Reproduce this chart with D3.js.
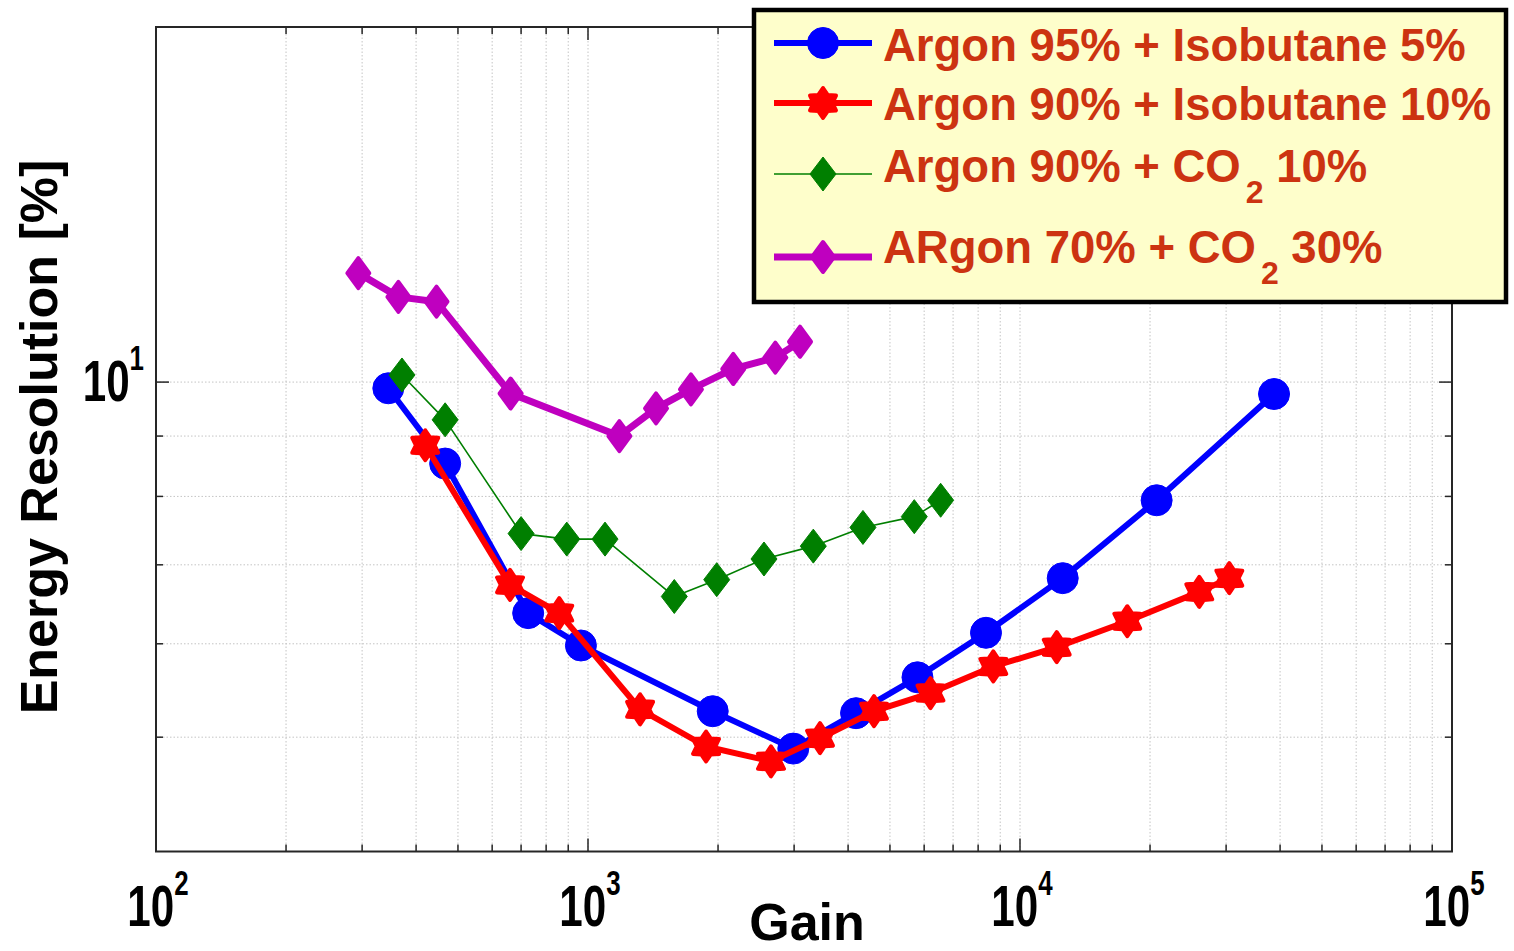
<!DOCTYPE html>
<html>
<head>
<meta charset="utf-8">
<script src="https://cdn.jsdelivr.net/npm/d3@7"></script>
<style>
  html, body { margin: 0; padding: 0; background: #ffffff; }
  svg { display: block; }
</style>
</head>
<body>
<svg id="chart" width="1514" height="951"></svg>
<script>
// Energy resolution vs. gas gain for four argon-based mixtures
const gainArIso5 = [345, 467, 727, 963, 1944, 2987, 4173, 5790, 8342, 12556, 20715, 38730];
const resArIso5  = [9.88, 8.53, 6.37, 5.98, 5.26, 4.89, 5.24, 5.62, 6.13, 6.82, 7.94, 9.77];

const gainArIso10 = [420, 660, 858, 1320, 1876, 2652, 3444, 4592, 6206, 8673, 12162, 17715, 26002, 30517];
const resArIso10  = [8.84, 6.73, 6.37, 5.28, 4.91, 4.77, 4.99, 5.26, 5.45, 5.74, 5.96, 6.27, 6.64, 6.82];

const gainArCO2_10 = [371, 467, 700, 893, 1095, 1584, 1986, 2555, 3323, 4330, 5692, 6551];
const resArCO2_10  = [10.14, 9.29, 7.44, 7.36, 7.36, 6.58, 6.80, 7.08, 7.26, 7.53, 7.69, 7.94];

const gainArCO2_30 = [294, 364, 446, 662, 1182, 1437, 1731, 2169, 2714, 3096];
const resArCO2_30  = [12.37, 11.81, 11.70, 9.78, 9.00, 9.50, 9.86, 10.26, 10.49, 10.82];

const xMajorTicks = [100, 1000, 10000, 100000];
const xTickExponents = ["2", "3", "4", "5"];
const yMajorTicks = [10];
const yTickExponents = ["1"];

const legendLabels = [
  ["Argon 95% + Isobutane 5%"],
  ["Argon 90% + Isobutane 10%"],
  ["Argon 90% + CO", "2", " 10%"],
  ["ARgon 70% + CO", "2", " 30%"]
];

const svg = d3.select("#chart");
const L = 156, R = 1452, T = 27, B = 851.5;

const x = d3.scaleLog().domain([100, 100000]).range([L, R]);
const y = d3.scaleLog().domain([4, 20]).range([B, T]);

// minor positions 2..9 per decade
const xMinor = [];
for (let e = 2; e < 5; e++) for (let m = 2; m <= 9; m++) xMinor.push(m * Math.pow(10, e));

const grid = svg.append("g").attr("stroke", "#c4c4c4").attr("stroke-width", 1)
  .attr("stroke-dasharray", "1.5,2");
grid.selectAll("line.vx").data(xMinor.concat([1000, 10000])).join("line")
  .attr("x1", d => x(d)).attr("x2", d => x(d)).attr("y1", T).attr("y2", B);
grid.selectAll("line.hy").data([5, 6, 7, 8, 9, 10]).join("line")
  .attr("x1", L).attr("x2", R).attr("y1", d => y(d)).attr("y2", d => y(d));

// axes (box with inward ticks)
const axisCol = "#262626";
svg.append("rect").attr("x", L).attr("y", T).attr("width", R - L).attr("height", B - T)
  .attr("fill", "none").attr("stroke", axisCol).attr("stroke-width", 2);

const ticks = svg.append("g").attr("stroke", axisCol).attr("stroke-width", 1.5);
const xTickData = xMinor.map(v => ({v, len: 7})).concat([1000, 10000].map(v => ({v, len: 13})));
ticks.selectAll("line.xb").data(xTickData).join("line")
  .attr("x1", d => x(d.v)).attr("x2", d => x(d.v)).attr("y1", B).attr("y2", d => B - d.len);
ticks.selectAll("line.xt").data(xTickData).join("line")
  .attr("x1", d => x(d.v)).attr("x2", d => x(d.v)).attr("y1", T).attr("y2", d => T + d.len);
const yTickData = [5, 6, 7, 8, 9].map(v => ({v, len: 7})).concat(yMajorTicks.map(v => ({v, len: 13})));
ticks.selectAll("line.yl").data(yTickData).join("line")
  .attr("y1", d => y(d.v)).attr("y2", d => y(d.v)).attr("x1", L).attr("x2", d => L + d.len);
ticks.selectAll("line.yr").data(yTickData).join("line")
  .attr("y1", d => y(d.v)).attr("y2", d => y(d.v)).attr("x1", R).attr("x2", d => R - d.len);

// tick labels: bold, horizontally condensed
const titleFont = "'Liberation Sans', Arial, Helvetica, sans-serif";
const squeeze = 0.74;
function powerLabel(px, py, anchor, exp) {
  const g = svg.append("g").attr("transform", `translate(${px},${py}) scale(${squeeze},1)`);
  const t = g.append("text").attr("x", 0).attr("y", 0).attr("text-anchor", anchor)
    .attr("font-family", titleFont).attr("font-weight", "bold").attr("font-size", 57).attr("fill", "#000");
  t.append("tspan").text("10");
  t.append("tspan").attr("dy", -31).attr("font-size", 35).text(exp);
}
xMajorTicks.forEach((v, i) => powerLabel(x(v) + 2, 926, "middle", xTickExponents[i]));
yMajorTicks.forEach((v, i) => powerLabel(144, y(v) + 19, "end", yTickExponents[i]));

// axis titles
svg.append("text").attr("x", 807).attr("y", 940).attr("text-anchor", "middle")
  .attr("font-family", titleFont).attr("font-weight", "bold").attr("font-size", 52)
  .text("Gain");
svg.append("text").attr("transform", "translate(57,437) rotate(-90)").attr("text-anchor", "middle")
  .attr("font-family", titleFont).attr("font-weight", "bold").attr("font-size", 52)
  .text("Energy Resolution [%]");

// marker shapes
function hexagramPath(R) {
  const r = R * 0.62, pts = [];
  for (let k = 0; k < 12; k++) {
    const a = -Math.PI / 2 + k * Math.PI / 6;
    const rad = k % 2 === 0 ? R : r;
    pts.push([rad * Math.cos(a), rad * Math.sin(a)]);
  }
  return "M" + pts.map(p => p[0].toFixed(2) + "," + p[1].toFixed(2)).join("L") + "Z";
}
function diamondPath(w, h) {
  return `M0,${-h / 2}L${w / 2},0L0,${h / 2}L${-w / 2},0Z`;
}

const seriesList = [
  {gain: gainArIso5, res: resArIso5, color: "#0000ff", lw: 6,
   draw: (g) => g.append("circle").attr("r", 15.5)},
  {gain: gainArIso10, res: resArIso10, color: "#ff0000", lw: 6,
   draw: (g) => g.append("path").attr("d", hexagramPath(15)).attr("stroke-width", 4)
     .attr("stroke-linejoin", "round")},
  {gain: gainArCO2_10, res: resArCO2_10, color: "#007f00", lw: 1.6,
   draw: (g) => g.append("path").attr("d", diamondPath(26, 34))},
  {gain: gainArCO2_30, res: resArCO2_30, color: "#bf00bf", lw: 7,
   draw: (g) => g.append("path").attr("d", diamondPath(22, 30)).attr("stroke-width", 4)
     .attr("stroke-linejoin", "round")}
];

const line = d3.line().x(d => x(d[0])).y(d => y(d[1]));
const plot = svg.append("g");
seriesList.forEach(s => {
  const pts = s.gain.map((g, i) => [g, s.res[i]]);
  const g = plot.append("g");
  g.append("path").datum(pts).attr("d", line).attr("fill", "none")
    .attr("stroke", s.color).attr("stroke-width", s.lw).attr("stroke-linejoin", "round");
  pts.forEach(p => {
    const m = g.append("g").attr("transform", `translate(${x(p[0])},${y(p[1])})`)
      .attr("fill", s.color).attr("stroke", s.color);
    s.draw(m);
  });
});

// legend
const lg = svg.append("g");
lg.append("rect").attr("x", 754).attr("y", 10).attr("width", 752).attr("height", 292)
  .attr("fill", "#fefecb").attr("stroke", "#000").attr("stroke-width", 4.5);
const rowLineY = [43, 103, 174, 257];
const rowBaseY = [61, 120, 182, 263];
seriesList.forEach((s, i) => {
  lg.append("line").attr("x1", 774).attr("x2", 872).attr("y1", rowLineY[i]).attr("y2", rowLineY[i])
    .attr("stroke", s.color).attr("stroke-width", s.lw);
  const m = lg.append("g").attr("transform", `translate(823,${rowLineY[i]})`)
    .attr("fill", s.color).attr("stroke", s.color);
  s.draw(m);
  const t = lg.append("text").attr("x", 883).attr("y", rowBaseY[i])
    .attr("font-family", titleFont).attr("font-weight", "bold").attr("font-size", 45.5)
    .attr("fill", "#cc3311");
  const parts = legendLabels[i];
  t.append("tspan").text(parts[0]);
  if (parts.length > 1) {
    t.append("tspan").attr("dx", 5).attr("dy", 21).attr("font-size", 32).text(parts[1]);
    t.append("tspan").attr("dy", -21).text(parts[2]);
  }
});
</script>
</body>
</html>
